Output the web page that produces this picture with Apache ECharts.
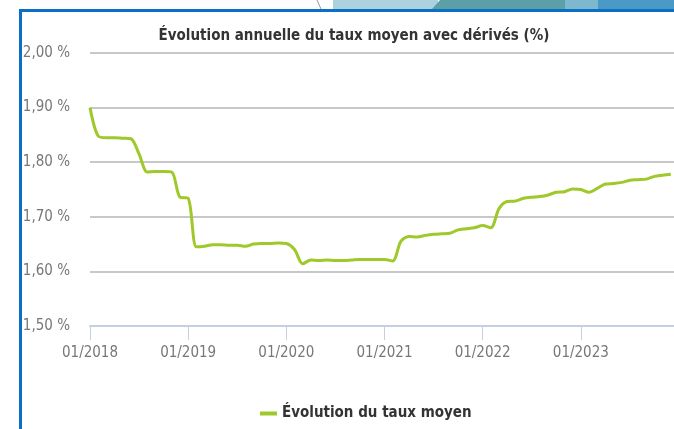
<!DOCTYPE html>
<html>
<head>
<meta charset="utf-8">
<script src="https://cdn.jsdelivr.net/npm/echarts@6/dist/echarts.min.js"></script>
<style>
html,body{margin:0;padding:0;background:#fff;overflow:hidden;width:674px;height:429px;}
#c{width:700px;height:429px;}
</style>
</head>
<body>
<div id="c"></div>
<script>
// Data
const years = ['2018','2019','2020','2021','2022','2023','2024'];
const yTicks = [1.5, 1.6, 1.7, 1.8, 1.9, 2.0];
const seriesName = 'Évolution du taux moyen';
const titleText = 'Évolution annuelle du taux moyen avec dérivés (%)';
// Monthly values Jan 2018 .. Dec 2023 (last slot Jan 2024 empty)
const tauxMoyen = [
  1.900, 1.848, 1.845, 1.845, 1.844, 1.843, 1.815, 1.782, 1.783, 1.783, 1.782, 1.736,
  1.734, 1.645, 1.646, 1.649, 1.649, 1.648, 1.648, 1.646, 1.650, 1.651, 1.651, 1.652,
  1.651, 1.640, 1.614, 1.621, 1.620, 1.621, 1.620, 1.620, 1.621, 1.622, 1.622, 1.622,
  1.622, 1.619, 1.655, 1.664, 1.663, 1.666, 1.668, 1.669, 1.670, 1.676, 1.678, 1.680,
  1.684, 1.680, 1.715, 1.728, 1.729, 1.734, 1.736, 1.737, 1.740, 1.745, 1.746, 1.751,
  1.750, 1.745, 1.752, 1.760, 1.761, 1.763, 1.767, 1.768, 1.769, 1.774, 1.776, 1.778,
  null
];

const months = [];
years.forEach(function (y, yi) {
  for (let m = 1; m <= 12; m++) {
    if (yi === years.length - 1 && m > 1) break;
    months.push((m < 10 ? '0' + m : '' + m) + '/' + y);
  }
});

const condensed = "'DejaVu Sans Condensed', 'Liberation Sans Narrow', 'DejaVu Sans', sans-serif";

const chart = echarts.init(document.getElementById('c'));
chart.setOption({
  animation: false,
  backgroundColor: '#ffffff',
  title: {
    text: titleText,
    left: 349,
    textAlign: 'center',
    top: 24,
    textStyle: { fontFamily: condensed, fontWeight: 'bold', fontSize: 15, color: '#333333' }
  },
  legend: {
    left: 255,
    top: 401,
    icon: 'rect',
    itemWidth: 17,
    itemHeight: 4,
    itemGap: 8,
    textStyle: { fontFamily: condensed, fontWeight: 'bold', fontSize: 15, color: '#333333' },
    data: [seriesName]
  },
  grid: { left: 90, top: 53, width: 589, height: 273, containLabel: false },
  xAxis: {
    type: 'category',
    data: months,
    boundaryGap: false,
    axisLine: { show: true, lineStyle: { color: '#c3d0e0', width: 2 } },
    axisTick: {
      show: true, length: 14,
      interval: function (i) { return i % 12 === 0; },
      lineStyle: { color: '#c3d0e0', width: 1 }
    },
    axisLabel: {
      interval: function (i) { return i % 12 === 0 && i < 72; },
      margin: 20,
      fontFamily: condensed, fontSize: 15, color: '#777777'
    },
    splitLine: { show: false }
  },
  yAxis: {
    type: 'value',
    min: yTicks[0],
    max: yTicks[yTicks.length - 1],
    interval: 0.1,
    axisLine: { show: false },
    axisTick: { show: false },
    axisLabel: {
      margin: 20,
      fontFamily: condensed, fontSize: 15, color: '#777777',
      formatter: function (v) { return v.toFixed(2).replace('.', ',') + ' %'; }
    },
    splitLine: { show: true, lineStyle: { color: '#c8c8c8', width: 2 } }
  },
  series: [{
    name: seriesName,
    type: 'line',
    data: tauxMoyen,
    smooth: 0.3,
    showSymbol: false,
    symbol: 'none',
    lineStyle: { color: '#9fc82a', width: 3 },
    itemStyle: { color: '#9fc82a' }
  }],
  graphic: [
    { type: 'rect', z: 100, shape: { x: 333, y: 0, width: 105, height: 9 }, style: { fill: '#acd2df' } },
    { type: 'polygon', z: 101, shape: { points: [[440, 0], [565, 0], [565, 9], [432, 9]] }, style: { fill: '#5c9fa6' } },
    { type: 'rect', z: 100, shape: { x: 565, y: 0, width: 33, height: 9 }, style: { fill: '#7db8cf' } },
    { type: 'rect', z: 100, shape: { x: 598, y: 0, width: 110, height: 9 }, style: { fill: '#4b9ac5' } },
    { type: 'line', z: 100, shape: { x1: 317, y1: 0, x2: 321, y2: 9 }, style: { stroke: '#999999', lineWidth: 1 } },
    { type: 'rect', z: 102, shape: { x: 20.5, y: 10.5, width: 720, height: 440 }, style: { fill: 'none', stroke: '#0b6fc6', lineWidth: 3 } }
  ]
});
</script>
</body>
</html>
